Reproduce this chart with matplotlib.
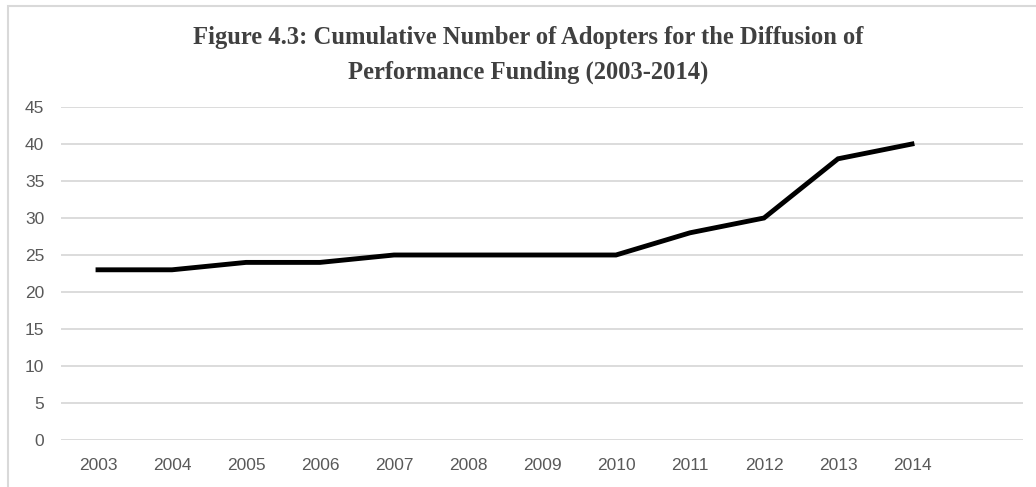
import matplotlib.pyplot as plt
from matplotlib.patches import Rectangle

# cumulative adopters by year
years = ['2003', '2004', '2005', '2006', '2007', '2008',
         '2009', '2010', '2011', '2012', '2013', '2014']
adopters = [23, 23, 24, 24, 25, 25, 25, 25, 28, 30, 38, 40]

W, H = 1036, 487
fig = plt.figure(figsize=(W / 100, H / 100), dpi=100)

# chart area border (left and top edges visible)
fig.patches.append(Rectangle((8 / W, -0.1), 1.2, (H - 6) / H + 0.1,
                             transform=fig.transFigure, fill=False,
                             edgecolor='#d9d9d9', linewidth=1.5))

ax = fig.add_axes([61 / W, (H - 440) / H, (1023 - 61) / W, (440 - 107) / H])
x = list(range(len(years)))
ax.plot(x, adopters, color='black', linewidth=3.5, solid_joinstyle='miter',
        zorder=3)

ax.set_xlim(-0.5, 12.5)
ax.set_ylim(0, 45)
ax.set_yticks(range(0, 46, 5))
ax.set_xticks(x)
ax.set_xticklabels(years)

ax.grid(axis='y', color='#d9d9d9', linewidth=1.3)
ax.set_axisbelow(True)
for s in ax.spines.values():
    s.set_visible(False)
ax.tick_params(length=0, labelsize=12.5, labelcolor='#595959')
ax.tick_params(axis='y', pad=12)
ax.tick_params(axis='x', pad=13)
for lab in ax.get_xticklabels() + ax.get_yticklabels():
    lab.set_fontfamily('Liberation Sans')

fig.text(528 / W, 1 - 55 / H,
         'Figure 4.3: Cumulative Number of Adopters for the Diffusion of\n'
         'Performance Funding (2003-2014)',
         ha='center', va='center', fontfamily='Liberation Serif',
         fontweight='bold', fontsize=17.7, color='#404040', linespacing=1.6)

fig.savefig('out.png', dpi=100)
